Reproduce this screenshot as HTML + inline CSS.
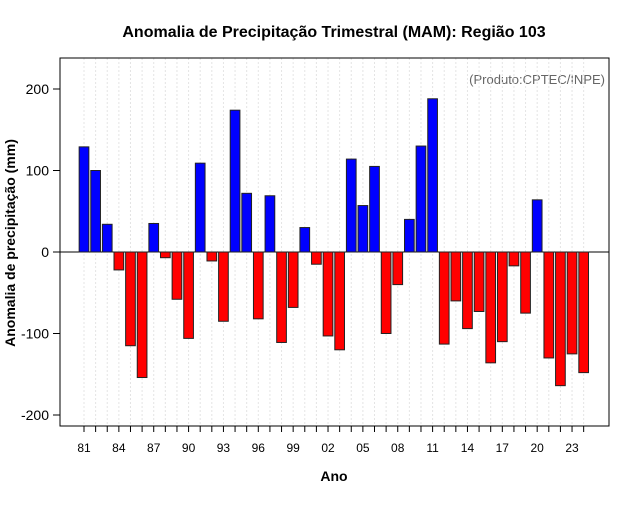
<!DOCTYPE html>
<html><head><meta charset="utf-8"><style>
body{margin:0;background:#fff;}
svg{font-family:"Liberation Sans",sans-serif;}
</style></head><body>
<svg id="c" width="640" height="500">
<text x="334" y="37" text-anchor="middle" font-size="16" font-weight="bold">Anomalia de Precipitação Trimestral (MAM): Região 103</text>
<text x="334" y="481" text-anchor="middle" font-size="14" font-weight="bold">Ano</text>
<text transform="translate(15,243) rotate(-90)" text-anchor="middle" font-size="14" font-weight="bold">Anomalia de precipitação (mm)</text>
<text x="605" y="84" text-anchor="end" font-size="13" fill="#666">(Produto:CPTEC/INPE)</text>
<g id="grid"></g><g id="bars"></g><g id="axes"></g>
<rect x="60" y="58" width="549" height="368" fill="none" stroke="#000" stroke-width="1"/>
</svg>
<script>
const years=[81,82,83,84,85,86,87,88,89,90,91,92,93,94,95,96,97,98,99,0,1,2,3,4,5,6,7,8,9,10,11,12,13,14,15,16,17,18,19,20,21,22,23,24];
const values=[129,100,34,-22,-115,-154,35,-7,-58,-106,109,-11,-85,174,72,-82,69,-111,-68,30,-15,-103,-120,114,57,105,-100,-40,40,130,188,-113,-60,-94,-73,-136,-110,-17,-75,64,-130,-164,-125,-148];
const yTicks=[-200,-100,0,100,200];
const xTickLabels=["81","84","87","90","93","96","99","02","05","08","11","14","17","20","23"];
const NS="http://www.w3.org/2000/svg";
const xS=i=>84+i*11.62;
const yS=v=>252-v*0.815;
const bw=9.7;
const g=document.getElementById('grid'),b=document.getElementById('bars'),a=document.getElementById('axes');
function mk(tag,attrs,parent){const e=document.createElementNS(NS,tag);for(const k in attrs)e.setAttribute(k,attrs[k]);parent.appendChild(e);return e;}
values.forEach((v,i)=>{
 const gl=mk('line',{x1:xS(i),x2:xS(i),y1:58,y2:426,stroke:'#e4e4e4','stroke-dasharray':'2,2'},g);
 
 
 const tk=mk('line',{x1:xS(i),x2:xS(i),y1:426,y2:432,stroke:'#000'},a);
 
 
});
const zl=mk('line',{x1:60,x2:609,y1:yS(0),y2:yS(0),stroke:'#000'},g);


values.forEach((v,i)=>{
 const y0=Math.min(yS(0),yS(v)),h=Math.abs(yS(v)-yS(0));
 const r=mk('rect',{x:xS(i)-bw/2,y:y0,width:bw,height:h,fill:v>=0?'#0000ff':'#ff0000',stroke:'#222','stroke-width':1},b);
 
 
});
yTicks.forEach(t=>{
 const l=mk('line',{x1:53,x2:60,y1:yS(t),y2:yS(t),stroke:'#000'},a);
 
 
 const tx=mk('text',{x:49,y:yS(t)+5,'text-anchor':'end','font-size':14},a);
 tx.textContent=t;
 
 
});
xTickLabels.forEach((s,k)=>{
 const i=k*3;
 const tx=mk('text',{x:xS(i),y:452,'text-anchor':'middle','font-size':12},a);
 tx.textContent=s;
 
 
});
</script>
</body></html>
